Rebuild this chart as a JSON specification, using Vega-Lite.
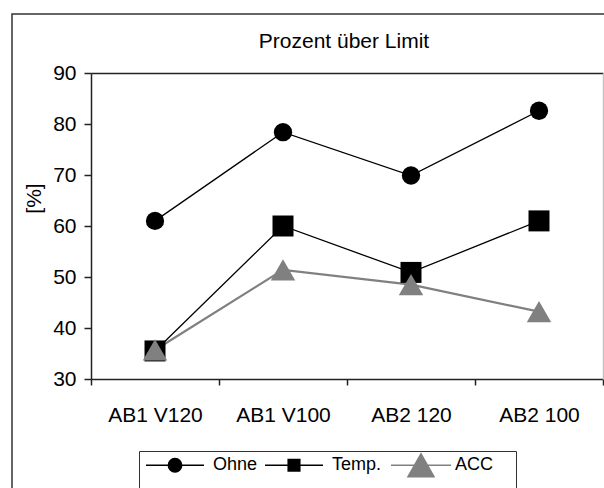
{
  "$schema": "https://vega.github.io/schema/vega-lite/v6.json",
  "width": 604,
  "height": 486,
  "autosize": {"type": "none"},
  "padding": {"left": 12, "top": 14, "right": -12, "bottom": -12},
  "background": "white",
  "config": {
    "font": "Liberation Sans",
    "view": {"stroke": "#333333", "strokeWidth": 1.5},
    "legend": {
      "orient": "none",
      "legendX": 127,
      "legendY": 437,
      "direction": "horizontal",
      "strokeColor": "#333333",
      "padding": 5,
      "columnPadding": 4,
      "labelOffset": 51,
      "labelFontSize": 18,
      "labelColor": "#000000",
      "symbolSize": 196,
      "symbolStrokeWidth": 1.5
    }
  },
  "title": {
    "text": "Prozent über Limit",
    "fontSize": 21,
    "fontWeight": "normal",
    "color": "#000000",
    "anchor": "middle",
    "frame": "group",
    "baseline": "alphabetic",
    "offset": 0,
    "dx": 30,
    "dy": 55
  },
  "data": {
    "values": [
      {"cond": "AB1 V120", "series": "Ohne", "pct": 61.0},
      {"cond": "AB1 V100", "series": "Ohne", "pct": 78.4},
      {"cond": "AB2 120", "series": "Ohne", "pct": 69.9},
      {"cond": "AB2 100", "series": "Ohne", "pct": 82.6},
      {"cond": "AB1 V120", "series": "Temp.", "pct": 35.5},
      {"cond": "AB1 V100", "series": "Temp.", "pct": 60.0},
      {"cond": "AB2 120", "series": "Temp.", "pct": 50.9},
      {"cond": "AB2 100", "series": "Temp.", "pct": 61.0},
      {"cond": "AB1 V120", "series": "ACC", "pct": 35.7},
      {"cond": "AB1 V100", "series": "ACC", "pct": 51.4},
      {"cond": "AB2 120", "series": "ACC", "pct": 48.5},
      {"cond": "AB2 100", "series": "ACC", "pct": 43.2}
    ]
  },
  "encoding": {
    "x": {
      "field": "cond",
      "type": "nominal",
      "sort": ["AB1 V120", "AB1 V100", "AB2 120", "AB2 100"],
      "scale": {"type": "band", "range": [79, 591], "paddingInner": 0, "paddingOuter": 0},
      "axis": {
        "title": null,
        "offset": -121,
        "labelAngle": 0,
        "labelFontSize": 21,
        "labelColor": "#000000",
        "labelPadding": 19,
        "tickBand": "extent",
        "tickSize": 6,
        "tickWidth": 1.5,
        "tickColor": "#222222",
        "domainColor": "#222222",
        "domainWidth": 1.5,
        "grid": false
      }
    },
    "color": {
      "field": "series",
      "type": "nominal",
      "scale": {"domain": ["Ohne", "Temp.", "ACC"], "range": ["#000000", "#000000", "#808080"]},
      "legend": {"title": null}
    }
  },
  "layer": [
    {
      "mark": {"type": "line"},
      "encoding": {
        "y": {
          "field": "pct",
          "type": "quantitative",
          "scale": {"domain": [30, 90], "range": [365, 59], "nice": false, "zero": false},
          "axis": {
            "title": "[%]",
            "titleFontSize": 21,
            "titleFontWeight": "normal",
            "titleColor": "#000000",
            "titleX": -57,
            "titleY": 184,
            "titleAngle": -90,
            "titleAlign": "center",
            "titleBaseline": "middle",
            "offset": -79,
            "values": [30, 40, 50, 60, 70, 80, 90],
            "labelFontSize": 21,
            "labelColor": "#000000",
            "labelPadding": 8,
            "tickSize": 7,
            "tickWidth": 1.5,
            "tickColor": "#222222",
            "domainColor": "#222222",
            "domainWidth": 1.5,
            "grid": true,
            "gridColor": "#222222",
            "gridWidth": 1.5,
            "gridOpacity": {"condition": {"test": "datum.value === 90", "value": 1}, "value": 0}
          }
        },
        "strokeWidth": {"condition": {"test": "datum.series === 'ACC'", "value": 2.3}, "value": 1.3}
      }
    },
    {
      "transform": [{"filter": "datum.series === 'Ohne'"}],
      "mark": {"type": "point", "shape": "circle", "size": 335, "filled": true, "opacity": 1, "strokeWidth": 0},
      "encoding": {
        "y": {
          "field": "pct",
          "type": "quantitative",
          "axis": {
            "orient": "right",
            "offset": -13,
            "title": null,
            "labels": false,
            "ticks": false,
            "grid": false,
            "domainColor": "#c4c4c4",
            "domainWidth": 1.5
          }
        }
      }
    },
    {
      "transform": [{"filter": "datum.series === 'Temp.'"}],
      "mark": {"type": "point", "shape": "square", "size": 441, "filled": true, "opacity": 1, "strokeWidth": 0},
      "encoding": {
        "y": {"field": "pct", "type": "quantitative", "axis": null}
      }
    },
    {
      "transform": [{"filter": "datum.series === 'ACC'"}],
      "mark": {"type": "point", "shape": "triangle-up", "size": 600, "filled": true, "opacity": 1, "strokeWidth": 0},
      "encoding": {
        "y": {"field": "pct", "type": "quantitative", "axis": null}
      }
    },
    {
      "transform": [{"filter": "datum.pct > 1000"}],
      "mark": {"type": "point", "filled": true, "opacity": 1, "size": 196},
      "encoding": {
        "y": {"field": "pct", "type": "quantitative", "axis": null},
        "shape": {
          "field": "series",
          "type": "nominal",
          "scale": {
            "domain": ["Ohne", "Temp.", "ACC"],
            "range": [
              "M-1,0H7.286M2.186,0A0.957,0.957,0,1,1,4.1,0A0.957,0.957,0,1,1,2.186,0ZM3.143,2.2L3.143,2.2",
              "M-1,0H7.286M2.313,-0.83H3.973V0.83H2.313ZM3.143,2.2L3.143,2.2",
              "M-0.571,0H8M3.714,-1.64L5.571,1.64H1.857ZM3.714,2.2L3.714,2.2M16.1,0L16.1,0"
            ]
          },
          "legend": {"title": null}
        }
      }
    }
  ],
  "resolve": {"axis": {"y": "independent"}}
}
